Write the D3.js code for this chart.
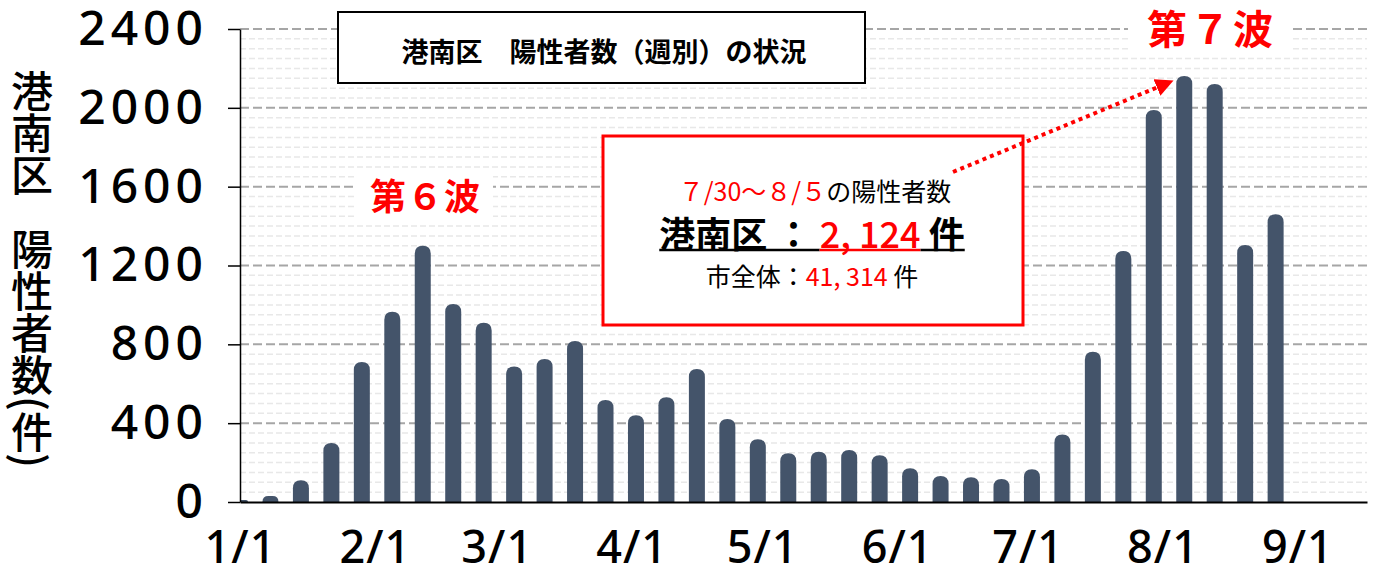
<!DOCTYPE html>
<html>
<head>
<meta charset="utf-8">
<script src="https://cdn.jsdelivr.net/npm/d3@7"></script>
<style>
  html, body { margin: 0; padding: 0; background: #fff; }
  svg { display: block; }
</style>
</head>
<body>
<div id="chart"></div>
<script>
// 週別データ（週の開始日と陽性者数）
const weekStarts = [
  "2022-01-01", "2022-01-08", "2022-01-15", "2022-01-22", "2022-01-29",
  "2022-02-05", "2022-02-12", "2022-02-19", "2022-02-26", "2022-03-05",
  "2022-03-12", "2022-03-19", "2022-03-26", "2022-04-02", "2022-04-09",
  "2022-04-16", "2022-04-23", "2022-04-30", "2022-05-07", "2022-05-14",
  "2022-05-21", "2022-05-28", "2022-06-04", "2022-06-11", "2022-06-18",
  "2022-06-25", "2022-07-02", "2022-07-09", "2022-07-16", "2022-07-23",
  "2022-07-30", "2022-08-06", "2022-08-13", "2022-08-20", "2022-08-27"
];
const weeklyCounts = [
  10, 30, 110, 300, 710,
  965, 1300, 1005, 910, 687,
  726, 817, 518, 440, 531,
  675, 421, 318, 247, 255,
  264, 237, 171, 132, 126,
  117, 166, 342, 763, 1273,
  1989, 2161, 2121, 1304, 1460
];
const xTickDates = ["2022-01-01", "2022-02-01", "2022-03-01", "2022-04-01", "2022-05-01",
                    "2022-06-01", "2022-07-01", "2022-08-01", "2022-09-01"];
const xTickLabels = ["1/1", "2/1", "3/1", "4/1", "5/1", "6/1", "7/1", "8/1", "9/1"];
const yTicks = [0, 400, 800, 1200, 1600, 2000, 2400];

const width = 1377, height = 571;
const plot = { left: 240, right: 1367, top: 29, bottom: 502 };
const barColor = "#44546a";
const red = "#ff0000";
const cjk = "'Noto Sans CJK JP', sans-serif";

const parseDate = d3.timeParse("%Y-%m-%d");
const data = weekStarts.map((d, i) => ({ date: parseDate(d), value: weeklyCounts[i] }));

const svg = d3.select("#chart").append("svg")
    .attr("width", width)
    .attr("height", height);

const x = d3.scaleTime()
    .domain([parseDate("2022-01-01"), parseDate("2022-09-17")])
    .range([plot.left, plot.right]);
const y = d3.scaleLinear()
    .domain([0, 2400])
    .range([plot.bottom, plot.top]);

// Gridlines (minor every 50, major every 400)
svg.append("g")
    .selectAll("line")
    .data(d3.range(50, 2400, 50).filter(v => v % 400 !== 0))
    .join("line")
    .attr("x1", plot.left).attr("x2", plot.right)
    .attr("y1", d => y(d)).attr("y2", d => y(d))
    .attr("stroke", "#e8e8e8")
    .attr("stroke-width", 1.5)
    .attr("stroke-dasharray", "6 3");

svg.append("g")
    .selectAll("line")
    .data(yTicks.filter(v => v > 0))
    .join("line")
    .attr("x1", plot.left).attr("x2", plot.right)
    .attr("y1", d => y(d)).attr("y2", d => y(d))
    .attr("stroke", "#a6a6a6")
    .attr("stroke-width", 2)
    .attr("stroke-dasharray", "9 4");

// Bars with rounded tops
svg.append("defs").append("clipPath").attr("id", "plot-clip")
    .append("rect")
    .attr("x", plot.left).attr("y", 0)
    .attr("width", plot.right - plot.left).attr("height", plot.bottom);

const barW = 16;
function roundTopBar(d) {
    const cx = x(d.date), y0 = y(0), yt = y(d.value);
    const h = y0 - yt;
    const r = Math.min(barW / 2, h);
    const l = cx - barW / 2, rr = cx + barW / 2;
    return `M${l},${y0}V${yt + r}Q${l},${yt} ${l + r},${yt}H${rr - r}Q${rr},${yt} ${rr},${yt + r}V${y0}Z`;
}

svg.append("g")
    .attr("clip-path", "url(#plot-clip)")
    .selectAll("path")
    .data(data)
    .join("path")
    .attr("d", roundTopBar)
    .attr("fill", barColor);

// Axes
const yAxis = d3.axisLeft(y)
    .tickValues(yTicks)
    .tickFormat(d3.format("d"))
    .tickSize(12)
    .tickSizeOuter(0)
    .tickPadding(20);
const gy = svg.append("g")
    .attr("transform", `translate(${plot.left},0)`)
    .call(yAxis);
gy.select(".domain").attr("stroke", "#000").attr("stroke-width", 1.5);
gy.selectAll(".tick line").attr("stroke", "#000").attr("stroke-width", 1.5);
gy.selectAll(".tick text")
    .attr("font-family", "'Noto Sans', sans-serif")
    .attr("font-size", 48)
    .attr("font-weight", 500)
    .attr("letter-spacing", 5)
    .attr("fill", "#000");

const xAxis = d3.axisBottom(x)
    .tickValues(xTickDates.map(parseDate))
    .tickFormat((d, i) => xTickLabels[i])
    .tickSize(0)
    .tickPadding(29);
const gx = svg.append("g")
    .attr("transform", `translate(0,${plot.bottom})`)
    .call(xAxis);
gx.select(".domain").attr("stroke", "#000").attr("stroke-width", 2);
gx.selectAll(".tick text")
    .attr("font-family", "'Noto Sans', sans-serif")
    .attr("font-size", 45)
    .attr("font-weight", 500)
    .attr("letter-spacing", 1)
    .attr("fill", "#000");

// Vertical y-axis title
const yTitle = svg.append("g")
    .attr("font-family", cjk)
    .attr("font-size", 42)
    .attr("font-weight", 500)
    .attr("fill", "#000");
yTitle.append("text")
    .attr("x", 32).attr("y", 70)
    .style("writing-mode", "vertical-rl")
    .text("港南区");
yTitle.append("text")
    .attr("x", 32).attr("y", 228)
    .style("writing-mode", "vertical-rl")
    .text("陽性者数(件)");

// Title box
svg.append("rect")
    .attr("x", 338).attr("y", 12)
    .attr("width", 527).attr("height", 71)
    .attr("fill", "#fff")
    .attr("stroke", "#000").attr("stroke-width", 2);
svg.append("text")
    .attr("x", 604).attr("y", 50)
    .attr("text-anchor", "middle")
    .attr("dominant-baseline", "central")
    .attr("font-family", cjk)
    .attr("font-size", 27)
    .attr("font-weight", 700)
    .text("港南区　陽性者数（週別）の状況");

// Wave labels
function waveLabel(label, cx, cy, size, spacing, bw, bh) {
    svg.append("rect")
        .attr("x", cx - bw / 2).attr("y", cy - bh / 2)
        .attr("width", bw).attr("height", bh)
        .attr("fill", "#fff");
    svg.append("text")
        .attr("x", cx + spacing / 2).attr("y", cy)
        .attr("text-anchor", "middle")
        .attr("dominant-baseline", "central")
        .attr("font-family", cjk)
        .attr("font-size", size)
        .attr("font-weight", 700)
        .attr("letter-spacing", spacing)
        .attr("fill", red)
        .text(label);
}
waveLabel("第６波", 425, 194, 36, 1, 136, 48);
waveLabel("第７波", 1210, 27, 40, 3, 164, 54);

// Annotation box
svg.append("rect")
    .attr("x", 603).attr("y", 136)
    .attr("width", 420).attr("height", 189)
    .attr("fill", "#fff")
    .attr("stroke", red).attr("stroke-width", 3);

// text made of coloured segments, centred on cx
function segmentLine(cx, cy, segs, underline) {
    const g = svg.append("g");
    const nodes = segs.map(s => g.append("text")
        .attr("y", cy)
        .attr("dominant-baseline", "central")
        .attr("font-family", s.font || cjk)
        .attr("font-size", s.size)
        .attr("font-weight", s.weight || 400)
        .attr("fill", s.color)
        .style("white-space", "pre")
        .text(s.text));
    const widths = nodes.map(n => n.node().getComputedTextLength());
    let xx = cx - d3.sum(widths) / 2;
    nodes.forEach((n, i) => {
        n.attr("x", xx);
        if (underline) {
            g.append("line")
                .attr("x1", xx).attr("x2", xx + widths[i])
                .attr("y1", cy + underline).attr("y2", cy + underline)
                .attr("stroke", segs[i].color === red ? red : "#000")
                .attr("stroke-width", 2.5);
        }
        xx += widths[i];
    });
}

segmentLine(815, 190, [
    { text: "７/30～８/５", color: red, size: 25 },
    { text: "の陽性者数", color: "#000", size: 25 }
]);
segmentLine(812, 232, [
    { text: "港南区 ： ", color: "#000", size: 36, weight: 700 },
    { text: "2, 124", color: red, size: 36, weight: 500 },
    { text: " 件", color: "#000", size: 36, weight: 700 }
], 18);
segmentLine(812, 275, [
    { text: "市全体：", color: "#000", size: 25 },
    { text: "41, 314", color: red, size: 25 },
    { text: " 件", color: "#000", size: 25 }
]);

// Dotted arrow from the box to the 7th wave peak
const peak = data[d3.maxIndex(data, d => d.value)];
svg.select("defs").append("marker")
    .attr("id", "arrow-head")
    .attr("viewBox", "0 0 10 10")
    .attr("refX", 2).attr("refY", 5)
    .attr("markerWidth", 4.5).attr("markerHeight", 4.5)
    .attr("markerUnits", "strokeWidth")
    .attr("orient", "auto")
    .append("path")
    .attr("d", "M0,0L10,5L0,10Z")
    .attr("fill", red);
svg.append("line")
    .attr("x1", 953).attr("y1", 172)
    .attr("x2", x(peak.date) - 24).attr("y2", y(peak.value) + 10)
    .attr("stroke", red)
    .attr("stroke-width", 4)
    .attr("stroke-dasharray", "4 4")
    .attr("marker-end", "url(#arrow-head)");
</script>
</body>
</html>
